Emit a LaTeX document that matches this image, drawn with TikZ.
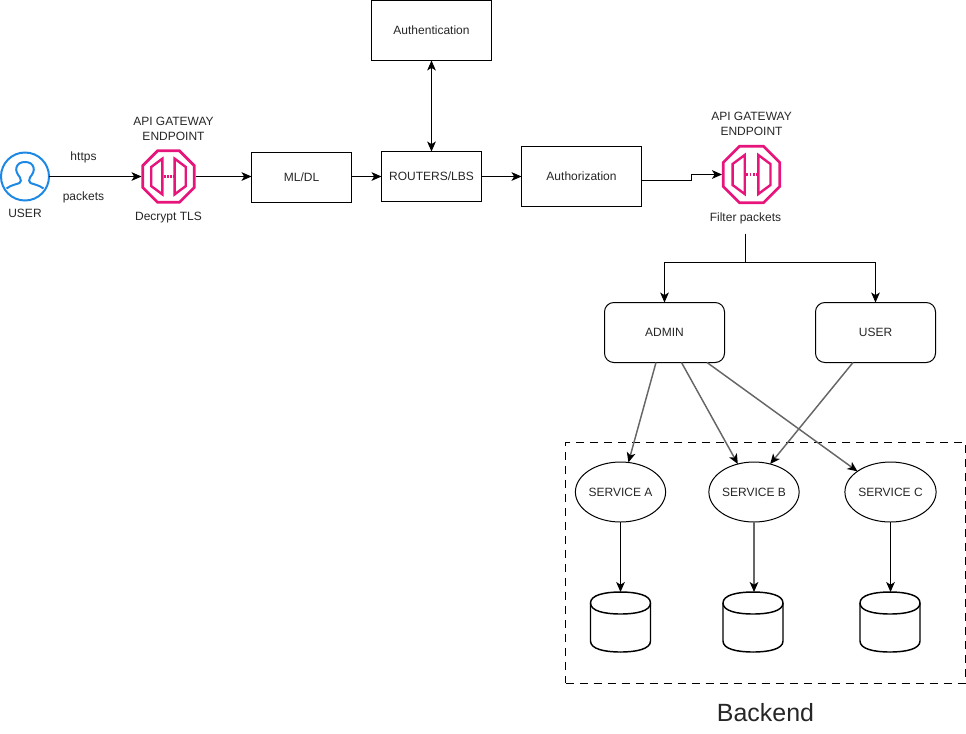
\documentclass[tikz,border=0pt]{standalone}
\usepackage{fontspec}
\setmainfont{Liberation Sans}
\usetikzlibrary{arrows.meta,shapes.geometric,calc}
\definecolor{pinkgw}{HTML}{E7157B}
\definecolor{blueusr}{HTML}{1E88E5}
\definecolor{greyln}{HTML}{666666}
\tikzset{
  x=0.75pt,y=-0.75pt,
  every node/.style={font=\fontsize{9}{11.25}\selectfont,text=black!85,inner sep=0pt,outer sep=0pt},
  box/.style={draw=black,line width=0.75pt,minimum width=#1*0.75pt,align=center},
  rbox/.style={draw=black,line width=0.75pt,rounded corners=7pt,minimum width=90pt,minimum height=45pt},
  svc/.style={draw=black,line width=0.75pt,ellipse,minimum width=67.5pt,minimum height=45pt},
  lbl/.style={align=center},
  conn/.style={draw=black,line width=0.75pt,-{Stealth[length=7.5pt,width=6.5pt,inset=2pt]}},
  greyconn/.style={draw=greyln,line width=1.1pt,-{Stealth[length=7.5pt,width=6.5pt,inset=2pt,black]}},
  gwline/.style={draw=pinkgw,line width=2pt,line join=miter},
  gwanchor/.style={minimum width=#1*1.5pt,minimum height=#1*1.5pt,draw=none},
  cyl/.style={draw=black,line width=1.1pt},
}
% gateway icon: centre node name, half-size
\newcommand{\gwicon}[2]{%
  \begin{scope}[shift={(#1)},x=#2*0.75pt,y=-#2*0.75pt]
    \draw[gwline] (-0.42,-1)--(0.42,-1)--(1,-0.42)--(1,0.42)--(0.42,1)--(-0.42,1)--(-1,0.42)--(-1,-0.42)--cycle;
    \draw[gwline,line width=1.8pt] (-0.24,-0.69)--(-0.24,0.69)--(-0.67,0.37)--(-0.67,-0.37)--cycle;
    \draw[gwline,line width=1.8pt] (0.24,-0.69)--(0.24,0.69)--(0.67,0.37)--(0.67,-0.37)--cycle;
    \draw[draw=pinkgw,line width=1.7pt,dash pattern=on 1.4pt off 1pt] (-0.18,0)--(0.2,0);
  \end{scope}}
\newcommand{\dbcyl}[3]{% name, centre x, top y
  \draw[cyl,fill=white] (#2-30,#3+11) .. controls (#2-30,#3+3) and (#2-16,#3) .. (#2,#3)
     .. controls (#2+16,#3) and (#2+30,#3+3) .. (#2+30,#3+11)
     -- (#2+30,#3+49) .. controls (#2+30,#3+57) and (#2+16,#3+60) .. (#2,#3+60)
     .. controls (#2-16,#3+60) and (#2-30,#3+57) .. (#2-30,#3+49) -- cycle;
  \draw[cyl] (#2-30,#3+11) .. controls (#2-30,#3+19) and (#2-16,#3+22) .. (#2,#3+22)
     .. controls (#2+16,#3+22) and (#2+30,#3+19) .. (#2+30,#3+11);
  \coordinate (#1) at (#2,#3);}
\begin{document}
\begin{tikzpicture}
\useasboundingbox (0,0) rectangle (966,733);
% user icon
\node[circle,minimum size=36pt,draw=blueusr,line width=1.5pt] (usr) at (25,176.5) {};
\begin{scope}[shift={(25,176.5)}]
\draw[blueusr,line width=1.5pt,line join=round]
 (-18.5,12) .. controls (-14,8.5) and (-9,8) .. (-5.5,6.5)
 .. controls (-3.5,5.5) and (-4,3) .. (-5,1)
 .. controls (-8,-3) and (-9.5,-6) .. (-8.5,-9)
 .. controls (-7.5,-13) and (-4,-14.5) .. (0,-14.5)
 .. controls (4,-14.5) and (7.5,-13) .. (8.5,-9)
 .. controls (9.5,-6) and (8,-3) .. (5,1)
 .. controls (4,3) and (3.5,5.5) .. (5.5,6.5)
 .. controls (9,8) and (14,8.5) .. (18.5,12);
\end{scope}
\node[lbl] (usrlbl) at (25,213) {USER};
\node[lbl] (https) at (83.5,157) {https};
\node[lbl] (pkts) at (83.5,197) {packets};
% gateway 1
\node[gwanchor=27] (gw1) at (168.5,176.5) {};
\gwicon{gw1}{25.8}
\node[lbl] (gw1lbl) at (173.5,129) {API GATEWAY\\ENDPOINT};
\node[lbl] (tls) at (168.5,218) {Decrypt TLS};
% gateway 2
\node[gwanchor=29.5] (gw2) at (751.5,174.5) {};
\gwicon{gw2}{28.3}
\node[lbl] (gw2lbl) at (751.5,124) {API GATEWAY\\ENDPOINT};
\node[lbl] (filt) at (745.5,218) {Filter packets};
% boxes
\node[box=120,minimum height=45pt] (authn) at (431.5,30.5) {Authentication};
\node[box=100,minimum height=37.5pt] (ml) at (301.5,177) {ML/DL};
\node[box=100,minimum height=37.5pt] (rt) at (431.5,176.5) {ROUTERS/LBS};
\node[box=120,minimum height=45pt] (authz) at (581.5,176.5) {Authorization};
\node[rbox] (admin) at (664.5,332.5) {ADMIN};
\node[rbox] (usrbox) at (875.5,332.5) {USER};
% backend
\node[draw=black,line width=0.75pt,dash pattern=on 6pt off 4.5pt,minimum width=300pt,minimum height=180.5pt] (backend) at (765.5,562.75) {};
\node[font=\fontsize{18.7}{22}\selectfont] (backendlbl) at (765.5,713) {Backend};
\node[svc] (sa) at (620.5,492) {SERVICE A};
\node[svc] (sb) at (754,492) {SERVICE B};
\node[svc] (sc) at (890.5,492) {SERVICE C};
\dbcyl{da}{620.5}{592}
\dbcyl{db}{753}{592}
\dbcyl{dc}{890}{592}
% connectors
\draw[conn] (usr.east) -- (usr.east -| gw1.west);
\draw[conn] (gw1.east) -- (gw1.east -| ml.west);
\draw[conn] (ml.east |- rt.west) -- (rt.west);
\draw[conn] (rt.east) -- (authz.west);
\draw[conn,{Stealth[length=7.5pt,width=6.5pt,inset=2pt]}-{Stealth[length=7.5pt,width=6.5pt,inset=2pt]}] (authn.south) -- (rt.north);
\draw[conn] ([yshift=-3pt]authz.east) -- ++(50,0) |- (gw2.west);
\coordinate (split) at (filt.south |- 0,262.5);
\draw[draw=black,line width=0.75pt] ($(filt.south)+(0,10)$) -- (split);
\draw[conn] (split) -| (admin.north);
\draw[conn] (split) -| (usrbox.north);
\draw[greyconn] ($(admin.south)+(-8.5,0)$) -- (sa.75);
\draw[greyconn] ($(admin.south)+(17,0)$) -- (sb.120);
\draw[greyconn] ($(admin.south)+(42.5,0)$) -- (sc.148);
\draw[greyconn] ($(usrbox.south)+(-22.5,0)$) -- (sb.60);
\draw[conn] (sa.south) -- (da);
\draw[greyconn] (sb.south) -- (sb.south |- db);
\draw[conn] (sc.south) -- (sc.south |- dc);
\end{tikzpicture}
\end{document}
